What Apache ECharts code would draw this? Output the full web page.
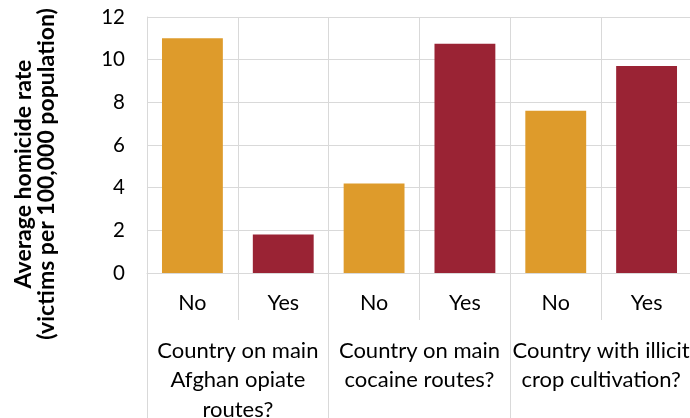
<!DOCTYPE html>
<html>
<head>
<meta charset="utf-8">
<script src="https://cdn.jsdelivr.net/npm/echarts@6/dist/echarts.min.js"></script>
<style>
html,body{margin:0;padding:0;background:#fff;}
#c{width:690px;height:418px;}
</style>
</head>
<body>
<div id="c"></div>
<script>
var categories = ['No', 'Yes', 'No', 'Yes', 'No', 'Yes'];
var groups = ['Country on main\nAfghan opiate\nroutes?', 'Country on main\ncocaine routes?', 'Country with illicit\ncrop cultivation?'];
var values = [11.0, 1.8, 4.2, 10.75, 7.6, 9.7];
var yTicks = [0, 2, 4, 6, 8, 10, 12];
var yTitle = 'Average homicide rate\n(victims per 100,000 population)';

var FONT = 'Lato';
var GRID = '#d9d9d9';
var chart = echarts.init(document.getElementById('c'), null, {renderer: 'canvas'});
chart.setOption({
  animation: false,
  grid: {left: 147, right: -2, top: 17, bottom: 145, containLabel: false, outerBoundsMode: 'none'},
  xAxis: [
    {
      type: 'category', data: categories, position: 'bottom',
      axisLine: {show: true, lineStyle: {color: GRID, width: 1}},
      axisTick: {show: true, interval: 0, length: 47, lineStyle: {color: GRID}},
      splitLine: {show: true, interval: 0, lineStyle: {color: GRID, width: 1}},
      axisLabel: {interval: 0, margin: 17, fontFamily: FONT, fontSize: 21.5, color: '#000', lineHeight: 26}
    },
    {
      type: 'category', data: groups, position: 'bottom',
      axisLine: {show: false},
      axisTick: {show: true, interval: 0, length: 146, lineStyle: {color: GRID}},
      splitLine: {show: false},
      axisLabel: {interval: 0, margin: 63, fontFamily: FONT, fontSize: 22, color: '#000', lineHeight: 29.5}
    }
  ],
  yAxis: {
    type: 'value', min: yTicks[0], max: yTicks[yTicks.length - 1], interval: 2,
    axisLine: {show: true, lineStyle: {color: GRID}},
    axisTick: {show: false},
    splitLine: {show: true, lineStyle: {color: GRID, width: 1}},
    axisLabel: {margin: 22, fontFamily: FONT, fontSize: 20.5, color: '#000'}
  },
  graphic: [{
    type: 'text', x: 35, y: 174, rotation: Math.PI / 2,
    style: {text: yTitle, fontFamily: FONT, fontWeight: 'bold', fontSize: 23, lineHeight: 23,
      fill: '#000', align: 'center', verticalAlign: 'middle'}
  }],
  series: [{
    type: 'bar', xAxisIndex: 0, data: values, barWidth: '67%',
    itemStyle: {color: function (p) { return categories[p.dataIndex] === 'No' ? '#DE9B2B' : '#9A2334'; }}
  }]
});
</script>
</body>
</html>
